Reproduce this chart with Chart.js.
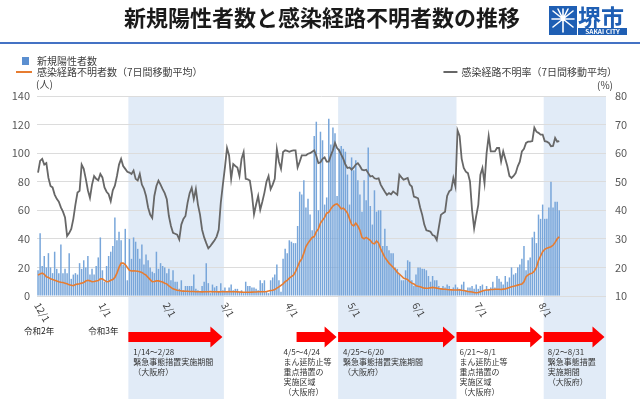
<!DOCTYPE html>
<html><head><meta charset="utf-8">
<script src="https://cdn.jsdelivr.net/npm/chart.js@4"></script>
<style>html,body{margin:0;padding:0;background:#fff;}#wrap{width:640px;height:399px;position:relative;}</style>
</head><body><div id="wrap"><canvas id="c" width="640" height="399"></canvas></div>
<script>
// ---------- categories (one per day, 2020/12/1 – 2021/8/31) ----------
const categories = [];
for (let d = new Date(2020, 11, 1); d <= new Date(2021, 7, 31); d.setDate(d.getDate() + 1)) {
  categories.push((d.getMonth() + 1) + '/' + d.getDate());
}
const monthTicks = ['12/1','1/1','2/1','3/1','4/1','5/1','6/1','7/1','8/1'];
const leftTicks = [0,20,40,60,80,100,120,140];
const rightTicks = [10,20,30,40,50,60,70,80];
const eraLabels = [['12/1','令和2年'],['1/1','令和3年']];

// ---------- 新規陽性者数 (daily) ----------
const casesDec = [18,44,21,28,20,30,20,16,31,19,16,36,16,19,16,30,12,15,16,15,23,19,25,20,28,15,19,15,21,27,41];
const casesJan = [18,10,21,28,31,35,55,39,45,39,22,47,11,40,26,41,38,33,26,36,22,29,25,20,17,16,31,19,23,21,20];
const casesFeb = [16,19,11,18,10,10,5,11,4,7,7,7,7,15,5,4,3,7,10,23,9,2,8,6,7,3,9,4];
const casesMar = [6,3,6,8,4,5,5,3,4,2,10,7,7,6,6,5,4,11,9,11,3,2,11,13,15,22,11,3,26,33,30];
const casesApr = [39,38,37,37,49,73,71,81,62,68,57,46,112,122,60,115,109,64,69,124,106,118,114,70,103,105,103,101,85,64];
const casesMay = [97,88,95,81,71,59,81,67,104,63,50,74,59,60,60,35,47,35,32,30,30,20,19,15,11,11,18,25,24,11,7];
const casesJun = [15,20,20,19,19,18,14,10,14,11,11,7,5,7,6,8,7,4,6,8,6,5,8,10,4,6,6,7,5,8];
const casesJul = [5,7,8,4,7,5,6,10,6,14,12,10,8,14,10,13,20,15,16,20,22,26,35,18,25,27,41,45,37,57,54];
const casesAug = [64,54,54,62,80,62,66,66,60];

// ---------- 感染経路不明者数 (7日間移動平均) ----------
const unkDec = [14.6,15.5,16,15.2,13.5,13,12,11.5,11,10.5,10,9.6,9.4,9,8.5,7.8,7.5,7.2,8,8.3,8.6,9,9.5,10.5,11,10.6,10,10.2,10.5,10.8,12];
const unkJan = [12,11,10,10.2,11,11.5,13,16,20,23,23,22,20,18,17.5,17.6,17.5,17.3,17,16.5,15.5,14.6,13,11.5,10,10.2,10.6,10.6,10.2,9.8,9];
const unkFeb = [8.5,7,6,5,4.5,4,3.8,3.5,3.4,3.3,3.3,3.2,3.2,3.1,3,3,3,2.9,3,3,3,3.1,3,3,3,2.9,3,3];
const unkMar = [3,3,3.1,3,3,3,2.9,2.8,2.7,2.6,2.6,2.6,2.6,2.7,2.8,2.8,3,3,3,3,3.2,3.5,3.8,4,4.5,5.5,6.4,7.5,8.5,10,11];
const unkApr = [12.5,13.5,14.6,17,20.5,24,26,30,34.6,37,39,41,41.6,45,47,51,53,55,58,58.6,61,63,64,64.4,63,61,61.5,60,58,54];
const unkMay = [50,49,51,49,46,41,40,41,40,39,37,36.5,38.5,37,33,30,27,25,23,21.5,20,18.5,16.5,15.4,14,12.5,12,11.5,10,9,8.4];
const unkJun = [7.2,6.8,6.5,6,5.5,5.4,5.5,5.8,6,5.8,5.5,5.2,5,4.8,4.7,4.5,4.4,4.3,4.2,4.2,4.2,4.3,4,3.8,3.5,3.2,3,2.8,2.5,2.3];
const unkJul = [2.5,3,3.5,4,4.2,4.2,4.5,4.6,4.7,4.7,4.7,4.6,4.8,5,5.5,6,6.5,6.8,7.2,7.6,8,8.4,10,13.5,14.8,15.5,16,17.5,20,25,28];
const unkAug = [31,32.7,33.5,34,34.5,35.5,37.5,40,41.5];

// ---------- 感染経路不明率 (7日間移動平均, %) ----------
const rateDec = [53.2,57.3,58,56,56.5,51.4,48.5,48,45.5,44,43,41,39.5,37.5,31,32,33.5,37,42,46.2,46.8,56,54.5,51,47,44.3,49,52,51,50.5,52.7];
const rateJan = [51.5,48,46.5,45.6,43.2,47,48.6,52,56,58,55.5,54.5,53.5,53.2,52.7,53.9,51,50.4,52.7,49,47.5,45,41,38.5,37.3,45,48.5,50.4,49,47.4,46];
const rateFeb = [43.9,38,34.5,32.1,31.8,31.5,29.8,35,37,38,42.6,46,47.9,43.9,47.4,42,38.5,33.2,30.5,28.5,26.7,27.5,28.5,29.5,30.8,33.2,42.6,49];
const rateMar = [55,61.8,59.2,51,56.2,55.5,55,52,58,60.4,51,50.8,50.4,45.6,38.6,42,45,40.2,43,46.1,50,52,47.4,49,51,61.4,57,54.5,60.4,61,60.8];
const rateApr = [60.5,60.8,61,61,55,57,59.2,59.2,59.2,59.8,60,60.5,61,59,56.5,56.8,58,58.5,57,57,59.2,61,63.6,61.8,61,59.5,58,56,54.8,55];
const rateMay = [54.2,55,56,56.5,55.5,54.2,54,54.2,53,51.8,52,51.2,51,51.2,49,47.7,46.5,45.4,46,45.6,46.6,46,45.4,52.4,51.5,50.7,51,51.3,49,48.3,44.8];
const rateJun = [44.5,44.2,41,38.4,35,33,32.8,32.5,31.3,31,29.6,34,38.4,39,39.5,45,46.6,47.2,51.3,48.3,68,66,58,54.8,53.5,53,50.1,40,33.7,38];
const rateJul = [41.9,52.4,54.8,49.5,60,66,60.6,60.6,60.6,61.8,61.8,57.1,60.6,58,55.4,52,51.3,52,53,55.4,57,60.6,61.5,63.6,64,64,64.2,68.9,67.5,67.1,66.5];
const rateAug = [66.5,64.2,64,63.6,62.4,62.5,65.3,64,64.2];

const newCases = [].concat(casesDec,casesJan,casesFeb,casesMar,casesApr,casesMay,casesJun,casesJul,casesAug);
const unknownAvg = [].concat(unkDec,unkJan,unkFeb,unkMar,unkApr,unkMay,unkJun,unkJul,unkAug);
const unknownRate = [].concat(rateDec,rateJan,rateFeb,rateMar,rateApr,rateMay,rateJun,rateJul,rateAug);

// ---------- periods (arrows / shaded bands) ----------
const periodFrom = ['1/14','4/5','4/25','6/21','8/2'];
const periodTo   = ['2/28','4/24','6/20','8/1','8/31'];
const periodShade = [true,false,true,false,true];
const periodText = [
  ['1/14～2/28','緊急事態措置実施期間','（大阪府）'],
  ['4/5～4/24','まん延防止等','重点措置の','実施区域','（大阪府）'],
  ['4/25～6/20','緊急事態措置実施期間','（大阪府）'],
  ['6/21～8/1','まん延防止等','重点措置の','実施区域','（大阪府）'],
  ['8/2～8/31','緊急事態措置','実施期間','（大阪府）']
];
const periodTextDx = [5,-13,5,3,4];

const titleText = '新規陽性者数と感染経路不明者数の推移';
const legendCases = '新規陽性者数';
const legendUnknown = '感染経路不明者数（7日間移動平均）';
const legendRate = '感染経路不明率（7日間移動平均）';

const FONT = '"Noto Sans CJK JP","Noto Sans",sans-serif';
const BAR = '#78a6da', LEGBAR = '#5b8fd0', ORANGE = '#e77c30', GRAY = '#676767', BAND = '#e1ebf7', RED = '#ff0000';

const decor = {
  id: 'decor',
  beforeDraw(chart) {
    const {ctx, chartArea, scales: {x}} = chart;
    ctx.save();
    ctx.fillStyle = '#fff';
    ctx.fillRect(0, 0, chart.width, chart.height);
    const w = x.getPixelForValue(1) - x.getPixelForValue(0);
    ctx.fillStyle = BAND;
    periodFrom.forEach((f, k) => {
      if (!periodShade[k]) return;
      const x0 = x.getPixelForValue(categories.indexOf(f)) - w / 2;
      const x1 = x.getPixelForValue(categories.indexOf(periodTo[k])) + w / 2;
      ctx.fillRect(x0, chartArea.top, x1 - x0, chart.height - chartArea.top);
    });
    ctx.restore();
  },
  afterDraw(chart) {
    const {ctx, scales: {x}} = chart;
    const w = x.getPixelForValue(1) - x.getPixelForValue(0);
    ctx.save();
    // title
    ctx.fillStyle = '#1a1a1a';
    ctx.font = `bold 22px ${FONT}`;
    ctx.textAlign = 'center'; ctx.textBaseline = 'middle';
    ctx.fillText(titleText, 322, 18);
    // blue rule
    ctx.fillStyle = '#4472c4';
    ctx.fillRect(0, 42, 640, 2);
    // logo
    ctx.fillStyle = '#1f5fb4';
    ctx.fillRect(549, 6, 28, 29);
    ctx.strokeStyle = '#fff'; ctx.lineWidth = 1.6; ctx.lineCap = 'round';
    const cx = 563, cy = 19;
    ctx.beginPath();
    ctx.moveTo(cx, 9); ctx.lineTo(cx, 32);
    [[-10,-8],[10,-8],[-11,0],[11,0],[-10,8],[10,8],[-5,-10],[5,-10]].forEach(([dx,dy]) => { ctx.moveTo(cx, cy); ctx.lineTo(cx + dx, cy + dy); });
    ctx.stroke();
    ctx.fillStyle = '#1f5fb4';
    ctx.font = `bold 23px ${FONT}`;
    ctx.textAlign = 'left'; ctx.textBaseline = 'middle';
    ctx.fillText('堺市', 578, 17);
    ctx.fillRect(578, 28, 49, 7);
    ctx.fillStyle = '#fff';
    ctx.font = `bold 6.5px ${FONT}`;
    ctx.textAlign = 'center';
    ctx.fillText('SAKAI CITY', 602.5, 31.6);
    // legend
    ctx.textAlign = 'left'; ctx.textBaseline = 'middle';
    ctx.font = `10px ${FONT}`;
    ctx.fillStyle = LEGBAR; ctx.fillRect(22, 57, 7, 8);
    ctx.fillStyle = '#404040';
    ctx.fillText(legendCases, 37, 61);
    ctx.strokeStyle = ORANGE; ctx.lineWidth = 2; ctx.lineCap = 'butt';
    ctx.beginPath(); ctx.moveTo(16, 72); ctx.lineTo(32, 72); ctx.stroke();
    ctx.fillText(legendUnknown, 37, 72);
    ctx.fillText('(人)', 36, 84);
    ctx.textAlign = 'right';
    ctx.fillText(legendRate, 617, 72);
    const lw = ctx.measureText(legendRate).width;
    ctx.strokeStyle = GRAY;
    ctx.beginPath(); ctx.moveTo(617 - lw - 18, 72); ctx.lineTo(617 - lw - 4, 72); ctx.stroke();
    ctx.fillText('(%)', 613, 85);
    // x tick labels (rotated)
    ctx.fillStyle = '#404040';
    ctx.font = `10px ${FONT}`;
    monthTicks.forEach(t => {
      const px = x.getPixelForValue(categories.indexOf(t));
      ctx.save();
      ctx.translate(px, 305);
      ctx.rotate(Math.PI / 3);
      ctx.textAlign = 'left'; ctx.textBaseline = 'middle';
      ctx.fillText(t, -2, 0);
      ctx.restore();
    });
    // era labels
    ctx.font = `8.5px ${FONT}`;
    ctx.textAlign = 'center';
    ctx.fillStyle = '#222';
    eraLabels.forEach(([t, s]) => {
      ctx.fillText(s, x.getPixelForValue(categories.indexOf(t)) + 1, 331);
    });
    // arrows & texts
    periodFrom.forEach((f, k) => {
      const x0 = x.getPixelForValue(categories.indexOf(f)) - w / 2;
      const x1 = x.getPixelForValue(categories.indexOf(periodTo[k])) + w / 2 - 1.5;
      const yc = 337, hl = 12;
      ctx.fillStyle = RED;
      ctx.beginPath();
      ctx.moveTo(x0, yc - 5); ctx.lineTo(x1 - hl, yc - 5); ctx.lineTo(x1 - hl, yc - 10.5);
      ctx.lineTo(x1, yc); ctx.lineTo(x1 - hl, yc + 10.5); ctx.lineTo(x1 - hl, yc + 5);
      ctx.lineTo(x0, yc + 5); ctx.closePath(); ctx.fill();
      ctx.fillStyle = '#333';
      ctx.font = `8px ${FONT}`;
      ctx.textAlign = 'left'; ctx.textBaseline = 'middle';
      periodText[k].forEach((line, j) => ctx.fillText(line, x0 + periodTextDx[k], 351.5 + j * 10));
    });
    ctx.restore();
  }
};

new Chart(document.getElementById('c'), {
  type: 'bar',
  data: {
    labels: categories,
    datasets: [
      { type: 'line', label: legendRate, data: unknownRate, yAxisID: 'y2', borderColor: GRAY, borderWidth: 1.8, pointRadius: 0, tension: 0, order: 0 },
      { type: 'line', label: legendUnknown, data: unknownAvg, yAxisID: 'y', borderColor: ORANGE, borderWidth: 1.6, pointRadius: 0, tension: 0, order: 1 },
      { type: 'bar', label: legendCases, data: newCases, yAxisID: 'y', backgroundColor: BAR, barPercentage: 0.72, categoryPercentage: 1, order: 2 }
    ]
  },
  options: {
    responsive: false,
    animation: false,
    events: [],
    layout: { padding: { top: 96, bottom: 103, left: 0, right: 0 } },
    plugins: { legend: { display: false }, tooltip: { enabled: false } },
    scales: {
      x: { type: 'category', offset: true, grid: { display: false }, border: { display: false }, ticks: { display: false }, afterFit(s) { s.height = 0; } },
      y: { position: 'left', min: 0, max: 140,
           afterBuildTicks(s) { s.ticks = leftTicks.map(v => ({ value: v })); },
           ticks: { color: '#595959', font: { size: 11, family: FONT }, padding: 7 },
           grid: { color: '#dcdcdc', drawTicks: false }, border: { display: false },
           afterFit(s) { s.width = 37; } },
      y2: { position: 'right', min: 10, max: 80,
           afterBuildTicks(s) { s.ticks = rightTicks.map(v => ({ value: v })); },
           ticks: { color: '#595959', font: { size: 11, family: FONT }, padding: 9 },
           grid: { display: false, drawTicks: false }, border: { display: false },
           afterFit(s) { s.width = 34; } }
    }
  },
  plugins: [decor]
});
</script>
</body></html>
